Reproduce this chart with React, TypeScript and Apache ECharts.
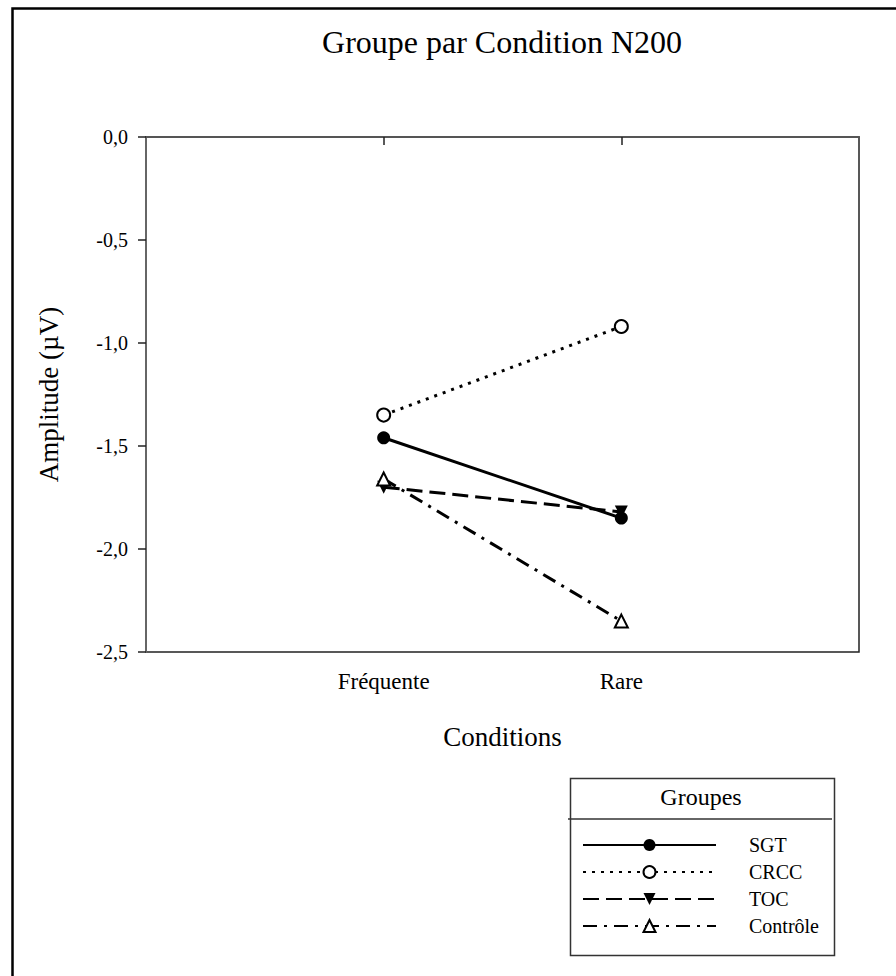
import React, { useEffect, useRef } from "react";
import * as echarts from "echarts";

const categories = ["", "Fréquente", "Rare", ""];
const sgt = ["-", -1.46, -1.85, "-"];
const crcc = ["-", -1.35, -0.92, "-"];
const toc = ["-", -1.7, -1.82, "-"];
const controle = ["-", -1.66, -2.35, "-"];
const groupNames = ["SGT", "CRCC", "TOC", "Contrôle"];
const yMin = -2.5;
const yMax = 0;
const yStep = 0.5;

const FONT = "'Liberation Serif', 'Times New Roman', serif";

export default function App() {
  const ref = useRef<HTMLDivElement>(null);
  useEffect(() => {
    if (!ref.current) return;
    const chart = echarts.init(ref.current, null, { renderer: "svg" });
    const base = {
      type: "line",
      symbolSize: 13,
      connectNulls: false,
      z: 3,
    };
    chart.setOption({
      animation: false,
      backgroundColor: "#fff",
      textStyle: { fontFamily: FONT, color: "#000" },
      title: {
        text: "Groupe par Condition N200",
        left: 502,
        textAlign: "center",
        top: 26,
        padding: 0,
        textStyle: { fontFamily: FONT, fontSize: 32, fontWeight: "normal", color: "#000" },
      },
      grid: {
        left: 146,
        top: 137,
        right: 37,
        bottom: 324,
        show: true,
        borderColor: "#222",
        borderWidth: 1.5,
      },
      xAxis: {
        type: "category",
        data: categories,
        boundaryGap: false,
        name: "Conditions",
        nameLocation: "middle",
        nameGap: 71,
        nameTextStyle: { fontFamily: FONT, fontSize: 27, color: "#000" },
        axisLine: { lineStyle: { color: "#555", width: 2 } },
        axisTick: {
          show: true,
          inside: false,
          length: 8,
          interval: (i: number) => i === 1 || i === 2,
          lineStyle: { color: "#222", width: 1.5 },
        },
        axisLabel: {
          interval: 0,
          margin: 18,
          fontFamily: FONT,
          fontSize: 23,
          color: "#000",
        },
        splitLine: { show: false },
      },
      yAxis: {
        type: "value",
        min: yMin,
        max: yMax,
        interval: yStep,
        name: "Amplitude (µV)",
        nameLocation: "middle",
        nameGap: 84,
        nameTextStyle: { fontFamily: FONT, fontSize: 27, color: "#000" },
        axisLine: { show: true, lineStyle: { color: "#666", width: 2 } },
        axisTick: { show: true, inside: false, length: 8, lineStyle: { color: "#222", width: 1.5 } },
        axisLabel: {
          margin: 18,
          fontFamily: FONT,
          fontSize: 20,
          color: "#000",
          formatter: (v: number) => v.toFixed(1).replace(".", ","),
        },
        splitLine: { show: false },
      },
      legend: {
        orient: "vertical",
        left: 582,
        top: 835,
        padding: 0,
        itemWidth: 133,
        itemHeight: 15,
        itemGap: 7,
        data: groupNames,
        formatter: (n: string) => `{t|${n}}`,
        textStyle: {
          rich: {
            t: { fontFamily: FONT, fontSize: 20, lineHeight: 20, color: "#000", padding: [0, 0, 0, 28] },
          },
        },
      },
      graphic: [
        {
          type: "rect",
          left: 10,
          top: 6,
          shape: { width: 1000, height: 1000 },
          style: { fill: "none", stroke: "#000", lineWidth: 2.5 },
          silent: true,
          z: -1,
        },
        {
          type: "rect",
          left: 568,
          top: 776,
          shape: { width: 264, height: 177 },
          style: { fill: "none", stroke: "#333", lineWidth: 1.5 },
          silent: true,
        },
        {
          type: "line",
          shape: { x1: 568, y1: 819, x2: 832, y2: 819 },
          style: { stroke: "#333", lineWidth: 1.5 },
          silent: true,
        },
        {
          type: "text",
          x: 701,
          y: 797,
          style: {
            text: "Groupes",
            fontFamily: FONT,
            fontSize: 24,
            fill: "#000",
            align: "center",
            verticalAlign: "middle",
          },
          silent: true,
        },
      ],
      series: [
        {
          ...base,
          name: "SGT",
          data: sgt,
          symbol: "circle",
          itemStyle: { color: "#000" },
          lineStyle: { color: "#000", width: 3, type: "solid" },
        },
        {
          ...base,
          name: "CRCC",
          data: crcc,
          symbol: "emptyCircle",
          itemStyle: { color: "#000", borderColor: "#000", borderWidth: 2.5 },
          lineStyle: { color: "#000", width: 3, type: [3, 6] },
        },
        {
          ...base,
          name: "TOC",
          data: toc,
          symbol: "triangle",
          symbolRotate: 180,
          itemStyle: { color: "#000" },
          lineStyle: { color: "#000", width: 3, type: [16, 7] },
        },
        {
          ...base,
          name: "Contrôle",
          data: controle,
          symbol: "emptyTriangle",
          itemStyle: { color: "#000", borderColor: "#000", borderWidth: 2.5 },
          lineStyle: { color: "#000", width: 3, type: [14, 7, 3, 7] },
        },
      ],
    });
    return () => chart.dispose();
  }, []);
  return (
    <div
      ref={ref}
      style={{ position: "fixed", left: 0, top: 0, width: 896, height: 976 }}
    />
  );
}
